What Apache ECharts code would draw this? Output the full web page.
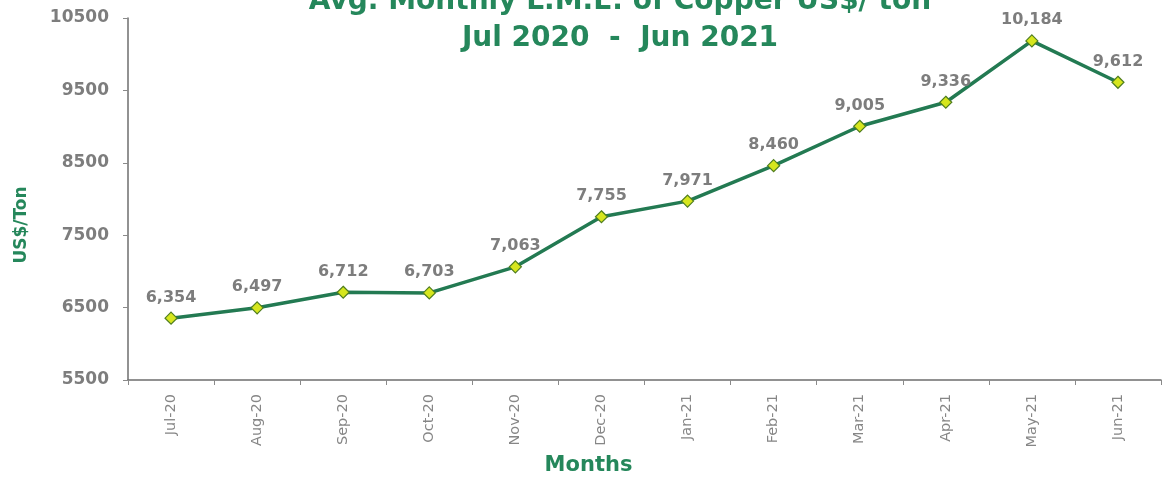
<!DOCTYPE html>
<html>
<head>
<meta charset="utf-8">
<script src="https://cdn.jsdelivr.net/npm/echarts@6/dist/echarts.min.js"></script>
<style>
  html, body { margin: 0; padding: 0; background: #ffffff; }
  #chart { width: 1170px; height: 500px; }
</style>
</head>
<body>
<div id="chart"></div>
<script>
// Monthly average LME copper price, US$ per ton
const months = ['Jul-20', 'Aug-20', 'Sep-20', 'Oct-20', 'Nov-20', 'Dec-20',
                'Jan-21', 'Feb-21', 'Mar-21', 'Apr-21', 'May-21', 'Jun-21'];
const copperPrice = [6354, 6497, 6712, 6703, 7063, 7755, 7971, 8460, 9005, 9336, 10184, 9612];
const yTicks = [5500, 6500, 7500, 8500, 9500, 10500];

const titleLines = ['Avg. Monthly L.M.E. of Copper US$/ ton', 'Jul 2020  -  Jun 2021'];

const green = '#25875b';
const gray = '#7d7d7d';
const font = 'DejaVu Sans, Verdana, sans-serif';

const chart = echarts.init(document.getElementById('chart'));
chart.setOption({
  backgroundColor: '#ffffff',
  animation: false,
  title: {
    text: titleLines.join('\n'),
    left: 615,
    textAlign: 'center',
    top: -22,
    textStyle: {
      color: green,
      fontFamily: font,
      fontWeight: 'bold',
      fontSize: 28,
      lineHeight: 37
    }
  },
  grid: { left: 128, right: 9, top: 18, bottom: 120, containLabel: false },
  xAxis: {
    type: 'category',
    data: months,
    boundaryGap: true,
    name: 'Months',
    nameLocation: 'middle',
    nameGap: 72,
    nameTextStyle: {
      color: green, fontWeight: 'bold', fontSize: 21, fontFamily: font,
      padding: [0, 112, 0, 0]
    },
    axisLine: { lineStyle: { color: '#6e6e6e', width: 1.5 } },
    axisTick: { show: true, length: 5, lineStyle: { color: '#8a8a8a' } },
    axisLabel: {
      rotate: 90,
      margin: 14,
      color: '#868686',
      fontSize: 14.5,
      fontFamily: font
    }
  },
  yAxis: {
    type: 'value',
    min: 5500,
    max: 10500,
    interval: 500,
    name: 'US$/Ton',
    nameLocation: 'middle',
    nameGap: 98,
    nameRotate: 90,
    nameTextStyle: {
      color: green, fontWeight: 'bold', fontSize: 17, fontFamily: font,
      padding: [0, 52, 0, 0]
    },
    axisLine: { show: true, lineStyle: { color: '#6e6e6e', width: 1.5 } },
    axisTick: { show: true, length: 5, customValues: yTicks, lineStyle: { color: '#8a8a8a' } },
    splitLine: { show: false },
    axisLabel: {
      customValues: yTicks,
      margin: 19,
      color: gray,
      fontWeight: 'bold',
      fontSize: 17,
      fontFamily: font,
      formatter: v => String(v)
    }
  },
  series: [{
    type: 'line',
    data: copperPrice,
    symbol: 'diamond',
    symbolSize: 12,
    lineStyle: { color: '#237a52', width: 3.5 },
    itemStyle: { color: '#d6e61e', borderColor: '#4f7d1f', borderWidth: 1.2 },
    label: {
      show: true,
      position: 'top',
      distance: 6,
      color: gray,
      fontWeight: 'bold',
      fontSize: 16,
      fontFamily: font,
      formatter: p => p.value.toLocaleString('en-US')
    },
    z: 3
  }]
});
</script>
</body>
</html>
